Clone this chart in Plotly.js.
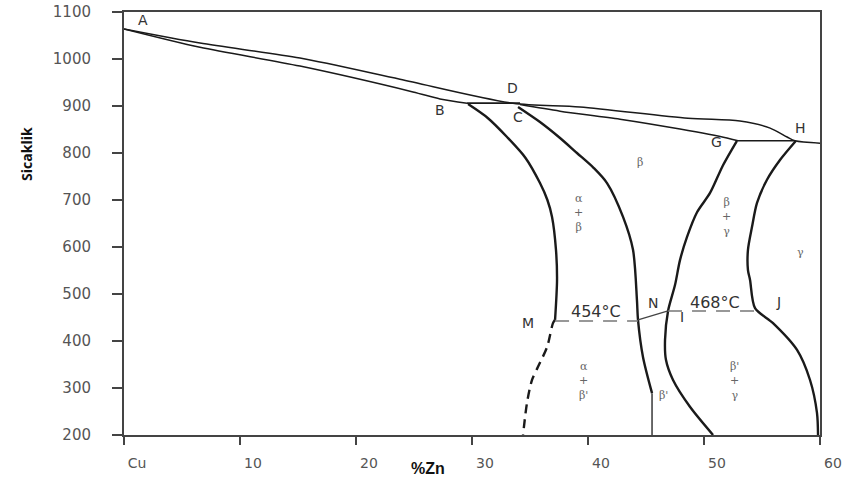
<!DOCTYPE html>
<html>
<head>
<meta charset="utf-8">
<script src="https://cdn.plot.ly/plotly-3.0.1.min.js"></script>
<style>html,body{margin:0;padding:0;background:#fff;}</style>
</head>
<body>
<div id="chart" style="width:852px;height:484px;"></div>
<script>
// ---- data (x = %Zn, y = temperature °C) ----
const xTickVals = [0, 10, 20, 30, 40, 50, 60];
const xTickText = ['Cu', '10', '20', '30', '40', '50', '60'];
const yTickVals = [200, 300, 400, 500, 600, 700, 800, 900, 1000, 1100];

// liquidus A -> D -> H -> 60%
const liquidusZn = [0, 6.55, 15.17, 23.79, 33.53, 39.31, 48.62, 53.1, 55.7, 57.16, 57.84, 60];
const liquidusT  = [1064, 1034, 1002, 957, 906, 898, 874, 868, 853, 834, 826, 821];

// alpha solidus A -> B
const solidusZn = [0, 6.55, 15.17, 24.91, 27.24, 29.57];
const solidusT  = [1064, 1025, 985, 930, 915, 906];

// peritectic B - D
const peritecticZn = [29.57, 34.14];
const peritecticT  = [906, 906];

// beta solidus D -> G
const betaSolidusZn = [34.14, 37.59, 42.76, 47.93, 51.98, 52.93];
const betaSolidusT  = [903, 889, 872, 851, 832, 826];

// peritectic G - H
const ghZn = [52.93, 57.84];
const ghT  = [826, 826];

// alpha / (alpha+beta) boundary B -> M
const alphaZn = [29.66, 31.38, 33.02, 34.6, 35.86, 36.5, 36.9, 37.24, 37.33, 37.16];
const alphaT  = [904, 874, 834, 790, 736, 700, 664, 594, 530, 445];

// dashed alpha / (alpha+beta') below M
const alphaLowZn = [37.16, 36.98, 36.47, 35.69, 35.17, 34.74, 34.4];
const alphaLowT  = [445, 438, 387, 345, 317, 268, 200];

// beta left boundary C -> N -> ...
const betaLeftZn = [33.97, 35.86, 37.59, 39.05, 40.5, 41.64, 43.02, 43.88, 44.22, 44.31, 44.74, 45.52];
const betaLeftT  = [898, 866, 832, 800, 768, 736, 664, 594, 487, 445, 366, 289];
const betaLeftLowZn = [45.52, 45.52];
const betaLeftLowT  = [289, 200];

// beta right boundary G -> I -> ...
const betaRightZn = [52.84, 51.64, 50.52, 49.4, 48.53, 47.93, 47.5, 46.9, 46.64, 46.72, 47.33, 48.79, 50.78];
const betaRightT  = [826, 774, 715, 674, 621, 572, 519, 464, 402, 360, 317, 260, 200];

// gamma boundary H -> J -> ...
const gammaZn = [57.93, 56.55, 55.43, 54.57, 54.14, 53.79, 53.79, 53.97, 54.4, 55.95, 58.02, 59.14, 59.74, 59.83];
const gammaT  = [826, 785, 743, 694, 643, 594, 551, 530, 470, 438, 381, 317, 247, 200];

// ordering isotherms
const iso454Zn = [37.16, 44.31];
const iso454T  = [442.5, 442.5];
const niZn = [44.31, 46.9];
const niT  = [445, 464];
const iso468Zn = [46.9, 54.4];
const iso468T  = [464, 464];

// point labels
const pointNames = ['A', 'B', 'C', 'D', 'G', 'H', 'M', 'N', 'I', 'J'];
const pointZn    = [1.64, 27.24, 33.97, 33.45, 51.12, 58.28, 34.83, 45.6, 48.1, 56.38];
const pointT     = [1083, 891, 877, 938, 823, 853, 438, 481, 451, 483];

// isotherm labels
const isoNames = ['454°C', '468°C'];
const isoZn    = [40.65, 50.95];
const isoT     = [462, 481];

// phase labels
const phaseNames = ['β', 'α<br>+<br>β', 'β<br>+<br>γ', 'γ', 'α<br>+<br>β\'', 'β\'', 'β\'<br>+<br>γ'];
const phaseZn    = [44.48, 39.14, 51.98, 58.28, 39.57, 46.47, 52.67];
const phaseT     = [779, 672, 664, 589, 315, 285, 315];

const xTitle = '%Zn';
const yTitle = 'Sicaklik';

// ---- build ----
function line(x, y, w, extra) {
  return {
    x: x, y: y, type: 'scatter', mode: 'lines', hoverinfo: 'skip', showlegend: false,
    line: Object.assign({color: '#1a1a1a', width: w, shape: 'spline', smoothing: 0.8}, extra || {})
  };
}
const traces = [
  line(liquidusZn, liquidusT, 1.5),
  line(solidusZn, solidusT, 1.5),
  line(peritecticZn, peritecticT, 1.8, {shape: 'linear'}),
  line(betaSolidusZn, betaSolidusT, 1.5),
  line(ghZn, ghT, 1.5, {shape: 'linear'}),
  line(alphaZn, alphaT, 2.4),
  line(alphaLowZn, alphaLowT, 2.4, {dash: '9px,6px'}),
  line(betaLeftZn, betaLeftT, 2.4),
  line(betaLeftLowZn, betaLeftLowT, 1.3, {shape: 'linear'}),
  line(betaRightZn, betaRightT, 2.4),
  line(gammaZn, gammaT, 2.4),
  line(iso454Zn, iso454T, 1.5, {shape: 'linear', color: '#777', dash: '14px,10px'}),
  line(niZn, niT, 1.3, {shape: 'linear', color: '#444'}),
  line(iso468Zn, iso468T, 1.5, {shape: 'linear', color: '#777', dash: '14px,10px'})
];

const annotations = [];
pointNames.forEach((t, i) => annotations.push({
  x: pointZn[i], y: pointT[i], xref: 'x', yref: 'y', text: t, showarrow: false,
  font: {family: 'DejaVu Sans, Arial, sans-serif', size: 14, color: '#333'}
}));
isoNames.forEach((t, i) => annotations.push({
  x: isoZn[i], y: isoT[i], xref: 'x', yref: 'y', text: t, showarrow: false,
  font: {family: 'DejaVu Sans, Arial, sans-serif', size: 16, color: '#333'}
}));
phaseNames.forEach((t, i) => annotations.push({
  x: phaseZn[i], y: phaseT[i], xref: 'x', yref: 'y', text: t, showarrow: false,
  font: {family: 'DejaVu Serif, Liberation Serif, serif', size: 11, color: '#666'}
}));
annotations.push({
  x: 26.2, y: 0, xref: 'x', yref: 'paper', yshift: -44, text: '<b>' + xTitle + '</b>', showarrow: false,
  font: {family: 'Liberation Sans, Arial, sans-serif', size: 16, color: '#111'}
});
annotations.push({
  x: 0, y: 797, xref: 'paper', yref: 'y', xshift: -109, text: '<b>' + yTitle + '</b>', showarrow: false,
  textangle: -90, font: {family: 'Open Sans, sans-serif', size: 14, color: '#111'}
});

const layout = {
  width: 852, height: 484,
  margin: {l: 124, r: 32, t: 12, b: 49},
  paper_bgcolor: '#fff', plot_bgcolor: '#fff',
  showlegend: false,
  xaxis: {
    range: [0, 60], tickvals: xTickVals, ticktext: xTickText,
    ticks: 'outside', ticklen: 8, tickwidth: 2, tickcolor: '#444',
    showline: true, linecolor: '#444', linewidth: 2, mirror: true,
    showgrid: false, zeroline: false, fixedrange: true,
    ticklabelshift: 13, ticklabelstandoff: 6,
    tickfont: {family: 'DejaVu Sans, Arial, sans-serif', size: 14, color: '#555'}
  },
  yaxis: {
    range: [200, 1100], tickvals: yTickVals,
    ticks: 'outside', ticklen: 10, tickwidth: 2, tickcolor: '#444',
    showline: true, linecolor: '#444', linewidth: 2, mirror: true,
    showgrid: false, zeroline: false, fixedrange: true,
    ticklabelstandoff: 18,
    tickfont: {family: 'DejaVu Sans, Arial, sans-serif', size: 15, color: '#555'}
  },
  annotations: annotations
};

Plotly.newPlot('chart', traces, layout, {displayModeBar: false, staticPlot: true});
</script>
</body>
</html>
